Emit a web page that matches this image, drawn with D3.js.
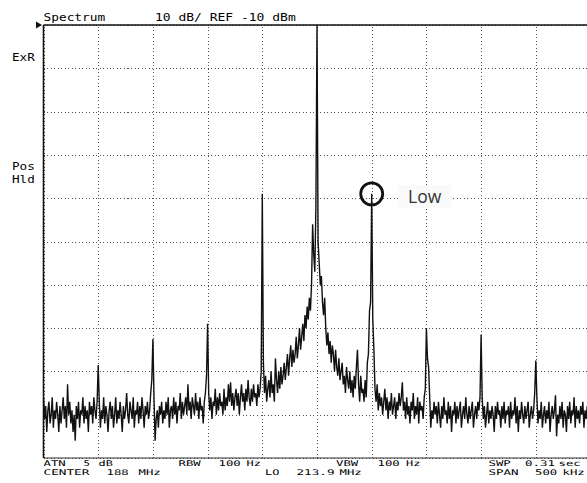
<!DOCTYPE html>
<html lang="en">
<head>
  <meta charset="UTF-8">
  <title>Spectrum 10 dB/div</title>
  <script src="https://d3js.org/d3.v7.min.js"></script>
  <style>
    body { margin: 0; background: #fff; }
    svg { display: block; }
    .grid line { stroke: #555; stroke-width: 1; stroke-dasharray: 1 2.5; shape-rendering: crispEdges; }
    .grid path { display: none; }
    .lbl { font-family: "DejaVu Sans Mono", monospace; fill: #000; }
  </style>
</head>
<body>
<svg width="587" height="483"></svg>

<script>
  // sweep settings (MHz), one level per 1 kHz sample point
  const startMHz = 187.75, stopMHz = 188.25, stepMHz = 0.001;
  const refLevel = -10, bottomLevel = -110;

  // trace levels in dBm (10 points per row)
  const levels = [
    -96, -101, -98, -104, -99, -97, -102, -100, -96, -103,
    -99, -101, -97, -100, -104, -98, -102, -99, -96, -101,
    -98, -103, -93, -100, -97, -102, -99, -104, -100, -106,
    -98, -101, -97, -103, -99, -100, -96, -102, -98, -101,
    -99, -104, -97, -100, -98, -102, -96, -99, -101, -97,
    -88.5, -97, -103, -99, -101, -96, -102, -98, -100, -104,
    -99, -97, -101, -98, -103, -100, -96, -102, -99, -101,
    -97, -100, -104, -98, -101, -99, -95, -100, -102, -97,
    -99, -101, -96, -103, -99, -100, -97, -102, -98, -101,
    -96, -99, -103, -98, -100, -97, -101, -99, -95, -92,
    -82.5, -96, -106, -101, -99, -103, -98, -100, -97, -102,
    -99, -101, -97, -100, -96, -103, -99, -98, -101, -96,
    -100, -97, -102, -98, -99, -95, -101, -97, -100, -98,
    -96, -100, -93, -99, -97, -101, -96, -98, -100, -95,
    -99, -97, -101, -96, -99, -98, -102, -97, -95, -91,
    -79, -95, -99, -96, -101, -97, -98, -94, -100, -96,
    -99, -95, -98, -97, -100, -94, -99, -96, -98, -93,
    -97, -92.5, -98, -95, -99, -96, -94, -98, -95, -100,
    -96, -93, -97, -95, -99, -94, -97, -92, -96, -98,
    -94, -97, -93, -96, -95, -98, -93, -96, -94, -90,
    -49, -88, -95, -91, -97, -94, -92, -96, -90, -95,
    -93, -97, -87, -92, -95, -90, -94, -89, -93, -91,
    -88, -92, -89, -86, -91, -87, -84, -89, -85, -88,
    -86, -82, -87, -84, -80, -85, -82, -79, -83, -77,
    -80, -75, -78, -73, -76, -70, -56, -63, -67, -52,
    -10, -60, -65, -70, -68, -74, -77, -73, -80, -84,
    -81, -86, -83, -88, -84, -86, -90, -85, -89, -91,
    -87, -92, -90, -88, -93, -91, -95, -89, -92, -94,
    -90, -95, -92, -96, -91, -94, -89, -85, -93, -97,
    -91, -95, -94, -97, -92, -96, -88, -86, -76, -74,
    -49, -78, -85, -94, -97, -93, -99, -95, -98, -96,
    -100, -97, -94, -99, -96, -101, -97, -99, -95, -100,
    -98, -96, -101, -97, -99, -95, -98, -96, -92.5, -99,
    -97, -101, -96, -100, -98, -102, -97, -99, -95, -101,
    -98, -100, -96, -102, -97, -99, -98, -101, -96, -94,
    -80, -87, -89, -96, -103, -99, -101, -97, -100, -98,
    -102, -97, -100, -103, -98, -101, -96, -100, -99, -102,
    -97, -101, -98, -104, -99, -100, -97, -102, -98, -101,
    -99, -97, -103, -100, -98, -101, -96, -100, -102, -98,
    -101, -99, -97, -103, -100, -98, -101, -97, -99, -96,
    -81.5, -96, -101, -98, -103, -100, -97, -102, -99, -101,
    -98, -100, -104, -98, -101, -97, -100, -99, -103, -98,
    -101, -97, -102, -99, -100, -98, -103, -97, -101, -99,
    -100, -96, -102, -98, -104, -99, -101, -97, -100, -102,
    -98, -101, -99, -97, -103, -100, -98, -101, -99, -95,
    -87.5, -96, -102, -99, -101, -97, -103, -100, -98, -102,
    -99, -101, -97, -104, -100, -98, -101, -99, -95.5, -105,
    -100, -102, -98, -101, -97, -103, -99, -100, -104, -98,
    -101, -97, -102, -99, -100, -96, -103, -98, -101, -99,
    -102, -98, -100, -97, -103, -99, -101, -98, -100, -97,
    -99
  ];

  const topLabels = [
    ["Spectrum", 43.5, 21],
    ["10 dB/ REF -10 dBm", 155, 21]
  ];
  const sideLabels = [
    ["ExR", 12, 61],
    ["Pos", 12, 170],
    ["Hld", 12, 183]
  ];
  const bottomLabels = [
    ["ATN", 43.5, 465.5], ["5", 83.5, 465.5], ["dB", 98.5, 465.5],
    ["RBW", 178.5, 465.5], ["100", 218.5, 465.5], ["Hz", 246.5, 465.5],
    ["VBW", 336, 465.5], ["100", 377.5, 465.5], ["Hz", 406, 465.5],
    ["SWP", 488.5, 465.5], ["0.31", 525, 465.5], ["sec", 558.5, 465.5],
    ["CENTER", 43.5, 474.5], ["188", 106.5, 474.5], ["MHz", 138.5, 474.5],
    ["LO", 265, 474.5], ["213.9", 296.5, 474.5], ["MHz", 339.5, 474.5],
    ["SPAN", 488.5, 474.5], ["500", 535, 474.5], ["kHz", 562.5, 474.5]
  ];
  const marker = { label: "Low", index: 300 };

  const svg = d3.select("svg");
  const plotL = 43.5, plotR = 590.5, plotT = 25, plotB = 458;

  const x = d3.scaleLinear().domain([startMHz, stopMHz]).range([plotL, plotR]);
  const y = d3.scaleLinear().domain([bottomLevel, refLevel]).range([plotB, plotT]);

  // dotted graticule
  svg.append("g")
    .attr("class", "grid")
    .attr("transform", `translate(0,${plotB})`)
    .call(d3.axisBottom(x).ticks(10).tickSize(-(plotB - plotT)).tickFormat(""));
  svg.append("g")
    .attr("class", "grid")
    .attr("transform", `translate(${plotL},0)`)
    .call(d3.axisLeft(y).ticks(10).tickSize(-(plotR - plotL)).tickFormat(""));

  // frame
  svg.append("line").attr("x1", plotL).attr("x2", 587).attr("y1", plotT).attr("y2", plotT)
    .attr("stroke", "#111").attr("stroke-width", 1.4);
  svg.append("line").attr("x1", plotL).attr("x2", 587).attr("y1", plotB).attr("y2", plotB)
    .attr("stroke", "#333").attr("stroke-width", 1.2);
  svg.append("line").attr("x1", plotL).attr("x2", plotL).attr("y1", plotT).attr("y2", plotB)
    .attr("stroke", "#111").attr("stroke-width", 1.6);

  // reference arrow
  svg.append("path")
    .attr("d", `M36,${plotT - 3.5} L42,${plotT} L36,${plotT + 3.5} Z`)
    .attr("fill", "#111");

  svg.append("clipPath").attr("id", "plot")
    .append("rect").attr("x", plotL).attr("y", plotT).attr("width", plotR - plotL).attr("height", plotB - plotT);

  const line = d3.line()
    .x((d, i) => x(startMHz + i * stepMHz))
    .y(d => y(d));

  svg.append("path")
    .datum(levels)
    .attr("clip-path", "url(#plot)")
    .attr("fill", "none")
    .attr("stroke", "#111")
    .attr("stroke-width", 1.4)
    .attr("d", line);

  // marker circle on the spur
  const mx = x(startMHz + marker.index * stepMHz), my = y(levels[marker.index]);
  svg.append("circle")
    .attr("cx", mx).attr("cy", my).attr("r", 11)
    .attr("fill", "none").attr("stroke", "#111").attr("stroke-width", 2.8);

  svg.append("rect")
    .attr("x", 398).attr("y", 185).attr("width", 54).attr("height", 23)
    .attr("fill", "#fafafa");
  svg.append("text")
    .attr("x", 408).attr("y", 203)
    .attr("font-family", "'Open Sans', sans-serif")
    .attr("font-size", 17.5)
    .attr("fill", "#333")
    .text(marker.label);

  // instrument annotations, stretched to the character cell
  function addLabels(list, size, cell) {
    svg.selectAll(null)
      .data(list)
      .enter()
      .append("text")
      .attr("class", "lbl")
      .attr("x", d => d[1])
      .attr("y", d => d[2])
      .attr("font-size", size)
      .attr("textLength", d => d[0].length * cell - 1.5)
      .attr("lengthAdjust", "spacingAndGlyphs")
      .style("white-space", "pre")
      .text(d => d[0]);
  }
  addLabels(topLabels, 9.8, 7.9);
  addLabels(sideLabels, 10.8, 8.1);
  addLabels(bottomLabels, 7.8, 7.9);
</script>
</body>
</html>
